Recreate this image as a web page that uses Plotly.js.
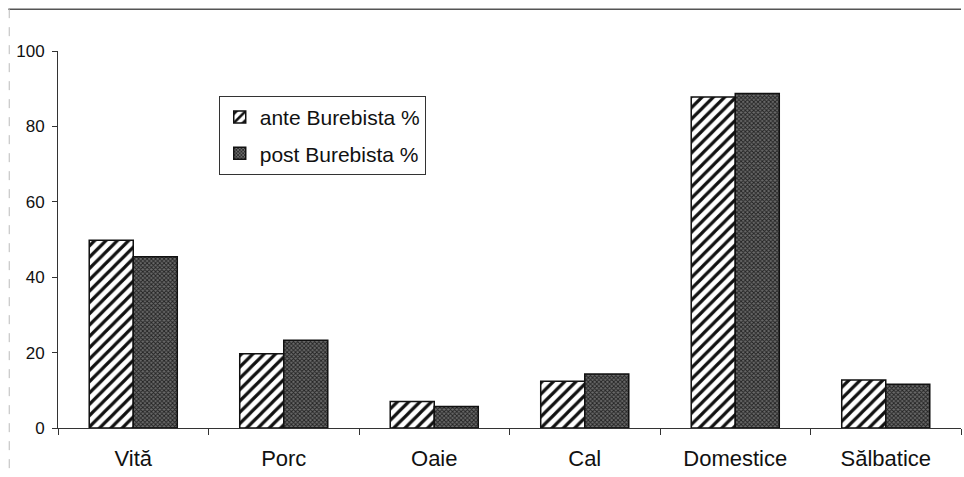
<!DOCTYPE html>
<html><head><meta charset="utf-8">
<script src="https://cdn.plot.ly/plotly-3.0.1.min.js"></script>
<style>body{margin:0;padding:0;background:#fff}#c{width:964px;height:477px}</style>
</head><body><div id="c"></div>
<script>
const categories = ["Vită", "Porc", "Oaie", "Cal", "Domestice", "Sălbatice"];
const anteValues = [49.8, 19.7, 7.0, 12.4, 87.8, 12.7];
const postValues = [45.4, 23.3, 5.7, 14.3, 88.7, 11.6];
const yTicks = [0, 20, 40, 60, 80, 100];

const fam = "Liberation Sans, Arial, sans-serif";

const traces = [
  {type: "bar", name: "ante Burebista %", x: categories, y: anteValues, legendgroup: "a",
   marker: {color: "#ffffff", line: {color: "#111", width: 1.5},
            pattern: {shape: "/", fgcolor: "#111", bgcolor: "#fff", size: 8, solidity: 0.4}}},
  {type: "bar", name: "post Burebista %", x: categories, y: postValues, legendgroup: "b",
   marker: {color: "#4a4a4a", line: {color: "#111", width: 1.5},
            pattern: {shape: "x", fgcolor: "#222", bgcolor: "#6a6a6a", size: 3, solidity: 0.5}}}
];

const layout = {
  width: 964, height: 477,
  margin: {l: 58, r: 3, t: 51, b: 49},
  paper_bgcolor: "#fff", plot_bgcolor: "#fff",
  font: {family: fam, size: 17, color: "#111"},
  barmode: "group", bargap: 0.415, bargroupgap: 0,
  showlegend: true,
  legend: {x: 0.178, y: 0.881, xanchor: "left", yanchor: "top",
           bgcolor: "#fff", bordercolor: "#333", borderwidth: 1,
           font: {family: fam, size: 21, color: "#111"},
           itemwidth: 30, tracegroupgap: 6, traceorder: "grouped"},
  xaxis: {type: "category", range: [-0.5, 5.5], showline: true, linecolor: "#333", linewidth: 1,
          ticks: "outside", tickson: "boundaries", ticklen: 6, tickcolor: "#333",
          tickfont: {family: fam, size: 22, color: "#111"},
          showgrid: false, zeroline: false, fixedrange: true, ticklabelstandoff: 11},
  yaxis: {range: [0, 100], tickvals: yTicks, showline: true, linecolor: "#333", linewidth: 1,
          ticks: "outside", ticklen: 5, tickcolor: "#333", showgrid: false, zeroline: false,
          tickfont: {family: fam, size: 17, color: "#111"},
          ticklabelstandoff: 4},
  shapes: [
    {type: "line", xref: "paper", yref: "paper", x0: -0.055, x1: 1.0, y0: 1.111, y1: 1.111,
     line: {color: "#555", width: 1.5}},
    {type: "line", xref: "paper", yref: "paper", x0: -0.054, x1: -0.054, y0: 1.111, y1: -0.13,
     line: {color: "#bbb", width: 1, dash: "dash"}}
  ]
};

Plotly.newPlot("c", traces, layout, {staticPlot: true, displayModeBar: false});
</script></body></html>
